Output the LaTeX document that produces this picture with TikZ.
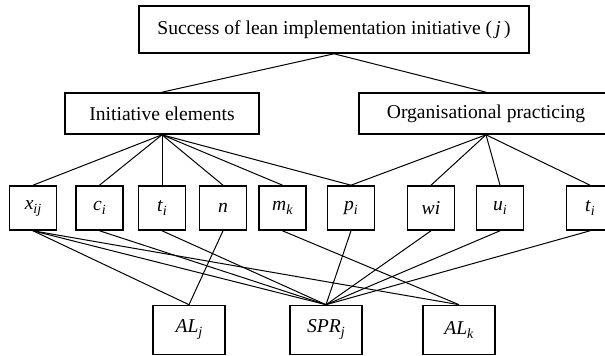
\documentclass[tikz,border=0pt]{standalone}
\usepackage{fontspec}
\setmainfont{Liberation Serif}
\newcommand{\lowsub}[1]{\raisebox{-2pt}{\scriptsize\textit{#1}}}
\tikzset{
    x=0.5pt, y=-0.5pt, % one unit is one pixel of the sketch, y runs down
    box/.style={draw, line width=0.8pt, inner sep=0pt, font=\fontsize{9.8}{11.8}\selectfont}, % every framed label
    head/.style={box, minimum width=195pt, minimum height=23.5pt},
    group/.style={box, minimum width=97pt, minimum height=20.5pt},
    leaf/.style={box, minimum width=23.5pt, minimum height=22pt},
    goal/.style={box, minimum width=36pt, minimum height=24.5pt},
    link/.style={line width=0.5pt}, % plain connectors, no heads
}

\begin{document}
\begin{tikzpicture}
\useasboundingbox (0,0) rectangle (605,356);
\clip (0,0) rectangle (605,356);

\node[head]                          (succ) at (334,29.5)  {Success of lean implementation initiative (\,\textit{j}\,)};
\node[group]                         (init) at (162,113.5) {Initiative elements};
\node[group, minimum width=127pt]    (org)  at (486,113.5) {Organisational practicing};

\node[leaf] (xij) at (33,208)   {\textit{x}\lowsub{ij}};
\node[leaf] (ci)  at (99.5,208) {\textit{c}\lowsub{i}};
\node[leaf] (ti)  at (162,208)  {\textit{t}\lowsub{i}};
\node[leaf] (n)   at (223,208)  {\textit{n}};
\node[leaf] (mk)  at (282.5,208){\textit{m}\lowsub{k}};
\node[leaf] (pi)  at (351,208)  {\textit{p}\lowsub{i}};
\node[leaf] (wi)  at (431,208)  {\textit{wi}};
\node[leaf] (ui)  at (500,208)  {\textit{u}\lowsub{i}};
\node[leaf] (tio) at (590,208)  {\textit{t}\lowsub{i}};

\node[goal] (alj) at (189,330)  {\textit{AL}\lowsub{j}};
\node[goal] (spr) at (326,330)  {\textit{SPR}\lowsub{j}};
\node[goal] (alk) at (459,330)  {\textit{AL}\lowsub{k}};

\draw[link]
(succ.south) edge (init.north)
(succ.south) edge (org.north)
(init.south) edge (xij.north)
(init.south) edge (ci.north)
(init.south) edge (ti.north)
(init.south) edge (n.north)
(init.south) edge (mk.north)
(init.south) edge (pi.north)
(org.south)  edge (pi.north)
(org.south)  edge (wi.north)
(org.south)  edge (ui.north)
(org.south)  edge (tio.north)
(xij.south)  edge (alj.north)
(xij.south)  edge (spr.north)
(xij.south)  edge (alk.north)
(ci.south)   edge (spr.north)
(ti.south)   edge (spr.north)
(n.south)    edge (alj.north)
(mk.south)   edge (alk.north)
(pi.south)   edge (spr.north)
(wi.south)   edge (spr.north)
(ui.south)   edge (spr.north)
(tio.south)  edge (spr.north);
\end{tikzpicture}
\end{document}
